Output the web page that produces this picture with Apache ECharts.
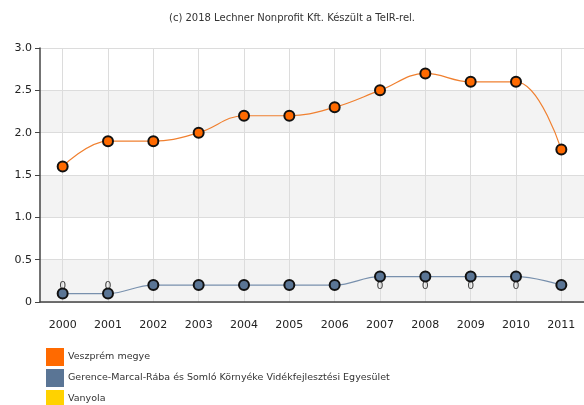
<!DOCTYPE html>
<html>
<head>
<meta charset="utf-8">
<script src="https://cdn.jsdelivr.net/npm/echarts@6/dist/echarts.min.js"></script>
<style>
  html, body { margin: 0; padding: 0; background: #fff; }
  #chart { width: 584px; height: 405px; }
</style>
</head>
<body>
<div id="chart"></div>
<script>
var years = ['2000', '2001', '2002', '2003', '2004', '2005', '2006', '2007', '2008', '2009', '2010', '2011'];
var veszprem = [1.6, 1.9, 1.9, 2.0, 2.2, 2.2, 2.3, 2.5, 2.7, 2.6, 2.6, 1.8];
var gerence = [0.1, 0.1, 0.2, 0.2, 0.2, 0.2, 0.2, 0.3, 0.3, 0.3, 0.3, 0.2];
var vanyola = [0, 0, null, null, null, null, null, 0, 0, 0, 0, null];
var names = ['Veszprém megye', 'Gerence-Marcal-Rába és Somló Környéke Vidékfejlesztési Egyesület', 'Vanyola'];
var colors = ['#ff6a00', '#5a7595', '#ffd200'];

var myChart = echarts.init(document.getElementById('chart'));
var fontFam = 'Verdana, "DejaVu Sans", sans-serif';

// one legend per row so nothing wraps into a second column
var legends = names.map(function (n, i) {
  return {
    orient: 'vertical',
    left: 46,
    top: 348 + i * 21,
    padding: 0,
    itemWidth: 18,
    itemHeight: 18,
    icon: 'rect',
    itemStyle: { borderWidth: 0 },
    data: [{ name: n, itemStyle: { color: colors[i], opacity: 1, borderWidth: 0 } }],
    textStyle: { fontSize: 9.5, color: '#333', padding: [0, 0, 0, -1] }
  };
});

var option = {
  animation: false,
  color: colors,
  textStyle: { fontFamily: fontFam },
  title: {
    text: '(c) 2018 Lechner Nonprofit Kft. Készült a TeIR-rel.',
    left: 'center',
    top: 8,
    textStyle: { fontSize: 10, fontWeight: 'normal', color: '#333', fontFamily: fontFam }
  },
  legend: legends,
  grid: { left: 40, right: -3, top: 48, bottom: 103 },
  xAxis: {
    type: 'category',
    data: years,
    boundaryGap: true,
    axisLine: { lineStyle: { color: '#444', width: 1.5 } },
    axisTick: { alignWithLabel: true, length: 5, lineStyle: { color: '#444' } },
    axisLabel: { color: '#222', fontSize: 11, margin: 18 },
    splitLine: { show: true, alignWithLabel: true, interval: 0, lineStyle: { color: '#dcdcdc' } }
  },
  yAxis: {
    type: 'value',
    min: 0,
    max: 3,
    interval: 0.5,
    axisLine: { show: true, lineStyle: { color: '#444', width: 1.5 } },
    axisTick: { show: true, length: 5, lineStyle: { color: '#444' } },
    axisLabel: {
      color: '#222', fontSize: 11, margin: 8,
      formatter: function (v) { return v === 0 ? '0' : v.toFixed(1); }
    },
    splitLine: { lineStyle: { color: '#dcdcdc' } },
    splitArea: { show: true, areaStyle: { color: ['#f3f3f3', '#ffffff'] } }
  },
  series: [
    {
      name: names[2],
      type: 'line',
      data: vanyola,
      symbol: 'circle',
      symbolSize: 2,
      showSymbol: true,
      lineStyle: { width: 0, color: 'transparent' },
      itemStyle: { color: 'transparent', borderWidth: 0 },
      label: {
        show: true,
        position: 'top',
        distance: 9,
        color: '#444',
        fontSize: 11
      },
      z: 1
    },
    {
      name: names[0],
      type: 'line',
      smooth: 0.4,
      data: veszprem,
      symbol: 'circle',
      symbolSize: 10,
      lineStyle: { width: 1.2, color: '#f08030' },
      itemStyle: { color: colors[0], borderColor: '#111', borderWidth: 2 },
      z: 3
    },
    {
      name: names[1],
      type: 'line',
      smooth: 0.4,
      data: gerence,
      symbol: 'circle',
      symbolSize: 10,
      lineStyle: { width: 1.2, color: '#7890ad' },
      itemStyle: { color: colors[1], borderColor: '#111', borderWidth: 2 },
      z: 3
    }
  ]
};
myChart.setOption(option);
</script>
</body>
</html>
